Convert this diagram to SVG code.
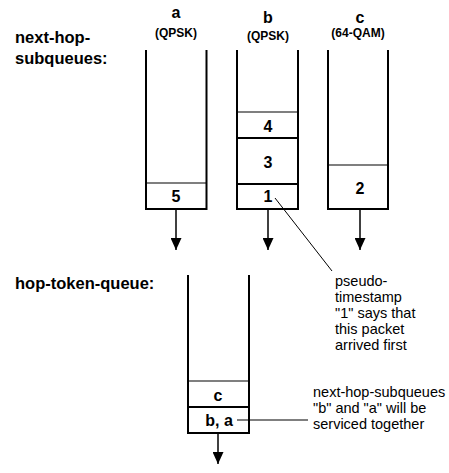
<svg xmlns="http://www.w3.org/2000/svg" width="449" height="473" viewBox="0 0 449 473">
<style>
.q{fill:none;stroke:#000;stroke-width:2}
.s{stroke:#000;stroke-width:1.2}
.sb{stroke:#000;stroke-width:2}
.lbl{font-family:"Liberation Sans",Arial,sans-serif;font-weight:bold;font-size:16.5px;fill:#000}
.sm{font-family:"Liberation Sans",Arial,sans-serif;font-weight:bold;font-size:12px;fill:#000;text-anchor:middle}
.num{font-family:"Liberation Sans",Arial,sans-serif;font-weight:bold;font-size:16px;fill:#000;text-anchor:middle}
.note{font-family:"Liberation Sans",Arial,sans-serif;font-size:14.5px;fill:#000}
.ar{stroke:#000;stroke-width:1.5;fill:none}
</style>
<defs>
<marker id="arr" markerWidth="12" markerHeight="11" refX="12" refY="5.5" orient="auto" markerUnits="userSpaceOnUse">
<path d="M0,0 L12,5.5 L0,11 Z" fill="#000"/>
</marker>
</defs>
<text class="lbl" x="15" y="43">next-hop-</text>
<text class="lbl" x="15" y="64">subqueues:</text>
<text class="lbl" x="15" y="289">hop-token-queue:</text>
<g id="queue-a">
<text class="num" x="176" y="18">a</text>
<text class="sm" x="176" y="37">(QPSK)</text>
<path class="q" d="M146,50 V209 H206.5 V50"/>
<line class="s" x1="146" y1="183" x2="206.5" y2="183"/>
<text class="num" x="176" y="202">5</text>
</g>
<g id="queue-b">
<text class="num" x="268" y="23">b</text>
<text class="sm" x="268" y="40">(QPSK)</text>
<path class="q" d="M237,50 V209 H298 V50"/>
<line class="s" x1="237" y1="112" x2="298" y2="112"/>
<line class="sb" x1="237" y1="138" x2="298" y2="138"/>
<line class="sb" x1="237" y1="184" x2="298" y2="184"/>
<text class="num" x="268" y="132">4</text>
<text class="num" x="268" y="168">3</text>
<text class="num" x="268" y="202">1</text>
</g>
<g id="queue-c">
<text class="num" x="360" y="23">c</text>
<text class="sm" x="358" y="37">(64-QAM)</text>
<path class="q" d="M328,50 V209 H388 V50"/>
<line class="s" x1="328" y1="165" x2="388" y2="165"/>
<text class="num" x="360" y="194">2</text>
</g>
<g id="hop-token-queue">
<path class="q" d="M188,275 V433 H249 V275"/>
<line class="s" x1="188" y1="381" x2="249" y2="381"/>
<line class="sb" x1="188" y1="407" x2="249" y2="407"/>
<text class="num" x="218" y="401">c</text>
<text class="num" x="219" y="426">b, a</text>
</g>
<g id="note-1">
<text class="note" x="335" y="286">pseudo-</text>
<text class="note" x="335" y="302">timestamp</text>
<text class="note" x="335" y="318">"1" says that</text>
<text class="note" x="335" y="334">this packet</text>
<text class="note" x="335" y="350">arrived first</text>
</g>
<g id="note-2">
<text class="note" x="313" y="397">next-hop-subqueues</text>
<text class="note" x="313" y="413">"b" and "a" will be</text>
<text class="note" x="313" y="429">serviced together</text>
</g>
<g id="connectors">
<line class="ar" x1="176" y1="209" x2="176" y2="250" marker-end="url(#arr)"/>
<line class="ar" x1="268" y1="209" x2="268" y2="250" marker-end="url(#arr)"/>
<line class="ar" x1="360" y1="209" x2="360" y2="250" marker-end="url(#arr)"/>
<line class="ar" x1="218" y1="433" x2="218" y2="464" marker-end="url(#arr)"/>
<line stroke="#000" stroke-width="1" x1="275" y1="198" x2="332" y2="271"/>
<line stroke="#000" stroke-width="1.2" x1="237" y1="420" x2="308" y2="420"/>
</g>
</svg>
